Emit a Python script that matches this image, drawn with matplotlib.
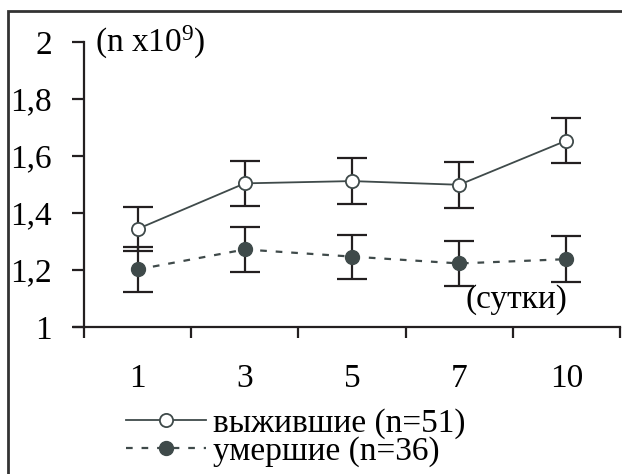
import matplotlib
matplotlib.use("Agg")
import matplotlib.pyplot as plt
from matplotlib.patches import Rectangle

plt.rcParams['font.family'] = ['Liberation Serif', 'DejaVu Serif']
plt.rcParams['mathtext.fontset'] = 'custom'
plt.rcParams['mathtext.rm'] = 'Liberation Serif'
plt.rcParams['mathtext.it'] = 'Liberation Serif'

# data
days = ['1', '3', '5', '7', '10']
survived = [1.344, 1.504, 1.512, 1.499, 1.654]
survived_err = [0.078, 0.078, 0.08, 0.08, 0.08]
died = [1.202, 1.272, 1.247, 1.223, 1.238]
died_err = [0.08, 0.08, 0.077, 0.08, 0.08]
yticks = [1, 1.2, 1.4, 1.6, 1.8, 2]
ytick_labels = ['1', '1,2', '1,4', '1,6', '1,8', '2']

line_col = '#3f4a4a'
err_col = '#231f20'
fs = 24

fig = plt.figure(figsize=(6.22, 4.74), dpi=100)
ax = fig.add_axes([84 / 622, 1 - 327 / 474, 536 / 622, 285 / 474])

x = list(range(len(days)))

ax.errorbar(x, survived, yerr=survived_err, fmt='none', ecolor=err_col,
            elinewidth=1.6, capsize=10.5, capthick=1.6, zorder=2)
ax.errorbar(x, died, yerr=died_err, fmt='none', ecolor=err_col,
            elinewidth=1.6, capsize=10.5, capthick=1.6, zorder=2)
ax.plot(x, survived, color=line_col, lw=1.3, marker='o', ms=9.5,
        mfc='white', mec=line_col, mew=1.3, zorder=3,
        label='выжившие (n=51)')
ax.plot(x, died, color=line_col, lw=1.6, ls=(0, (3, 4)), marker='o', ms=10,
        mfc=line_col, mec=line_col, zorder=3, label='умершие (n=36)')

ax.set_xlim(-0.5, len(days) - 0.5)
ax.set_ylim(1, 2)
ax.set_xticks([i - 0.5 for i in range(len(days) + 1)])
ax.set_xticklabels([])
ax.set_xticks(x, minor=True)
ax.set_xticklabels(days, minor=True)
ax.tick_params(axis='x', which='major', direction='out', length=8, width=1.6,
               color=err_col)
ax.tick_params(axis='x', which='minor', length=0, pad=26, labelsize=fs)
ax.set_yticks(yticks)
ax.set_yticklabels(ytick_labels)
ax.tick_params(axis='y', direction='out', length=9, width=1.6, color=err_col,
               pad=14, labelsize=fs)

for side in ['top', 'right']:
    ax.spines[side].set_visible(False)
for side in ['left', 'bottom']:
    ax.spines[side].set_linewidth(1.6)
    ax.spines[side].set_color(err_col)
ax.spines['bottom'].set_bounds(-0.5 - 10 / 107.2, len(days) - 0.5)

ax.text(-0.4, 2.0, r'(n x10$^{9}$)', fontsize=fs, va='center', ha='left')
ax.text(3.53, 1.095, '(сутки)', fontsize=fs, va='center', ha='center')

leg = fig.legend(loc='upper left', bbox_to_anchor=(126 / 622, 1 - 408 / 474),
                 frameon=False, fontsize=fs, handlelength=2.4,
                 handletextpad=0.2, labelspacing=-0.08, borderpad=0,
                 borderaxespad=0, numpoints=1)

fig.patches.append(Rectangle((8 / 622, -0.1), 1.2, 1 - 11 / 474 + 0.1,
                             transform=fig.transFigure, fill=False,
                             lw=2, ec='#333333'))

fig.savefig('out.png', dpi=100)
